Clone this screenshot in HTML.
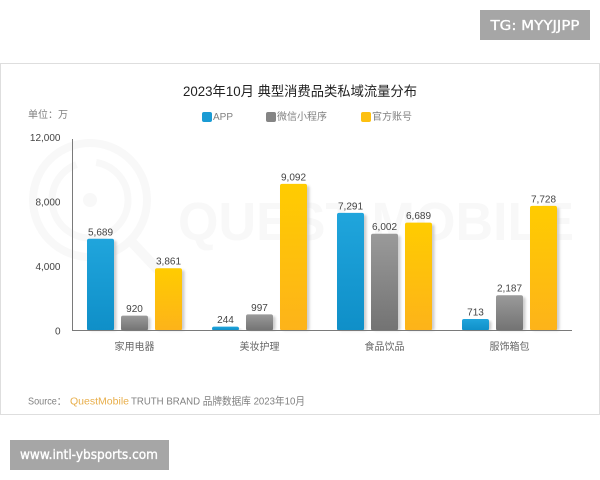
<!DOCTYPE html>
<html lang="zh">
<head>
<meta charset="utf-8">
<title>2023年10月 典型消费品类私域流量分布</title>
<style>
html,body{margin:0;padding:0;background:#fff;}
body{width:600px;height:480px;overflow:hidden;}
svg{display:block;filter:blur(0.35px);}
text{font-family:"Liberation Sans","Noto Sans CJK SC",sans-serif;}
</style>
</head>
<body>
<svg id="chart" width="600" height="480" viewBox="0 0 600 480" xmlns="http://www.w3.org/2000/svg">
  <defs>
    <linearGradient id="grad-app" x1="0" y1="0" x2="0" y2="1"><stop offset="0" stop-color="#20a5dc"/><stop offset="1" stop-color="#0f8fc8"/></linearGradient>
    <linearGradient id="grad-mini" x1="0" y1="0" x2="0" y2="1"><stop offset="0" stop-color="#9a9a9a"/><stop offset="1" stop-color="#737373"/></linearGradient>
    <linearGradient id="grad-official" x1="0" y1="0" x2="0" y2="1"><stop offset="0" stop-color="#ffcc00"/><stop offset="1" stop-color="#fdb31a"/></linearGradient>
    <filter id="soft-shadow" x="-30%" y="-10%" width="160%" height="120%"><feGaussianBlur stdDeviation="1.2"/></filter>
  </defs>
  <rect x="0" y="0" width="600" height="480" fill="#ffffff"/>
  <rect x="0.5" y="63.5" width="599" height="351" fill="#ffffff" stroke="#dedede" stroke-width="1"/>

  <g fill="none" stroke="#f8f8f8">
    <circle cx="90" cy="200" r="57" stroke-width="8"/>
    <circle cx="90" cy="200" r="38" stroke-width="7" stroke-dasharray="165 20 54"/>
    <circle cx="90" cy="200" r="7" fill="#f8f8f8" stroke="none"/>
    <line x1="128" y1="238" x2="158" y2="270" stroke-width="10"/>
    <text x="178" y="240" font-size="54" font-weight="bold" fill="#f8f8f8" stroke="none" textLength="396" lengthAdjust="spacingAndGlyphs">QUEST MOBILE</text>
  </g>

  <rect x="480" y="10" width="110" height="30" fill="#a6a6a6"/>
  <text x="490.5" y="30" font-size="13" fill="#ffffff" stroke="#ffffff" stroke-width="0.3" style="font-family:'DejaVu Sans',sans-serif" textLength="89" lengthAdjust="spacingAndGlyphs">TG: MYYJJPP</text>
  <rect x="10" y="440" width="159" height="30" fill="#a6a6a6"/>
  <text x="20" y="459" font-size="13" fill="#ffffff" stroke="#ffffff" stroke-width="0.35" style="font-family:'DejaVu Sans',sans-serif" textLength="138" lengthAdjust="spacingAndGlyphs">www.intl-ybsports.com</text>

  <text x="300" y="96" font-size="13.5" fill="#222222" text-anchor="middle" textLength="234" lengthAdjust="spacingAndGlyphs">2023年10月 典型消费品类私域流量分布</text>
  <text x="28" y="118" font-size="10" fill="#808080">单位：万</text>

  <g id="legend"></g>
  <g id="y-axis"></g>
  <g id="bars"></g>
  <g id="x-axis"></g>

  <g>
    <text x="28" y="404.5" font-size="10.5" fill="#808080" textLength="38" lengthAdjust="spacingAndGlyphs">Source：</text>
    <text x="70" y="404.5" font-size="10.5" fill="#e8ae4a" textLength="59" lengthAdjust="spacingAndGlyphs">QuestMobile</text>
    <text x="131" y="404.5" font-size="10.5" fill="#808080" textLength="174" lengthAdjust="spacingAndGlyphs">TRUTH BRAND 品牌数据库 2023年10月</text>
  </g>
</svg>
<script>
const categories = ['家用电器', '美妆护理', '食品饮品', '服饰箱包'];
const seriesNames = ['APP', '微信小程序', '官方账号'];
const appValues = [5689, 244, 7291, 713];
const miniProgramValues = [920, 997, 6002, 2187];
const officialValues = [3861, 9092, 6689, 7728];
const yTicks = [0, 4000, 8000, 12000];

const NS = 'http://www.w3.org/2000/svg';
const plot = { left: 72, right: 572, top: 137, bottom: 330.5, yMax: 12000 };
const barWidth = 27;
const barStep = 34;
const fills = ['url(#grad-app)', 'url(#grad-mini)', 'url(#grad-official)'];
const swatchFills = ['#1a9bd4', '#858585', '#fdc010'];
const legendX = [202, 266, 361];
const seriesValues = [appValues, miniProgramValues, officialValues];
const seriesKeys = ['app', 'mini-program', 'official'];

function yScale(v) {
  return plot.bottom - (v / plot.yMax) * (plot.bottom - plot.top);
}
function xBand(i) {
  return plot.left + (i + 0.5) * (plot.right - plot.left) / categories.length;
}
function make(tag, attrs, parent) {
  const el = document.createElementNS(NS, tag);
  for (const k in attrs) el.setAttribute(k, attrs[k]);
  parent.appendChild(el);
  return el;
}
function fmt(v) {
  return v.toString().replace(/\B(?=(\d{3})+$)/g, ',');
}

const legendG = document.getElementById('legend');
seriesNames.forEach(function (name, s) {
  const swatch = make('rect', { x: legendX[s], y: 112, width: 10, height: 10, rx: 2, fill: swatchFills[s] }, legendG);
  
  
  const label = make('text', { x: legendX[s] + 11, y: 120, 'font-size': 10, fill: '#808080' }, legendG);
  
  
  label.textContent = name;
});

const yG = document.getElementById('y-axis');
const yLine = make('line', { x1: plot.left + 0.5, x2: plot.left + 0.5, y1: 139, y2: plot.bottom, stroke: '#7a7a7a', 'stroke-width': 1 }, yG);


yTicks.forEach(function (t) {
  const label = make('text', { x: 60.5, y: yScale(t) + 4, 'font-size': 10, fill: '#444444', 'text-anchor': 'end' }, yG);
  
  
  label.textContent = fmt(t);
});

const barsG = document.getElementById('bars');
categories.forEach(function (cat, i) {
  const cx = xBand(i);
  seriesValues.forEach(function (values, s) {
    const v = values[i];
    const x = cx + (s - 1) * barStep - barWidth / 2;
    const y = yScale(v);
    const h = plot.bottom - y;
    const shadow = make('rect', { x: x + 2.5, y: y + 2, width: barWidth, height: Math.max(h - 2, 0), rx: 2, fill: '#bdbdbd', opacity: 0.75, filter: 'url(#soft-shadow)' }, barsG);
    
    
    const bar = make('rect', { x: x, y: y, width: barWidth, height: h, rx: 2, fill: fills[s] }, barsG);
    
    
    const label = make('text', { x: x + barWidth / 2, y: y - 3.5, 'font-size': 10, fill: '#444444', 'text-anchor': 'middle' }, barsG);
    
    
    label.textContent = fmt(v);
  });
});

const xG = document.getElementById('x-axis');
const xLine = make('line', { x1: plot.left, x2: plot.right, y1: plot.bottom, y2: plot.bottom, stroke: '#7a7a7a', 'stroke-width': 1 }, xG);


categories.forEach(function (cat, i) {
  const label = make('text', { x: xBand(i), y: 350, 'font-size': 10, fill: '#666666', 'text-anchor': 'middle' }, xG);
  
  
  label.textContent = cat;
});
</script>
</body>
</html>
